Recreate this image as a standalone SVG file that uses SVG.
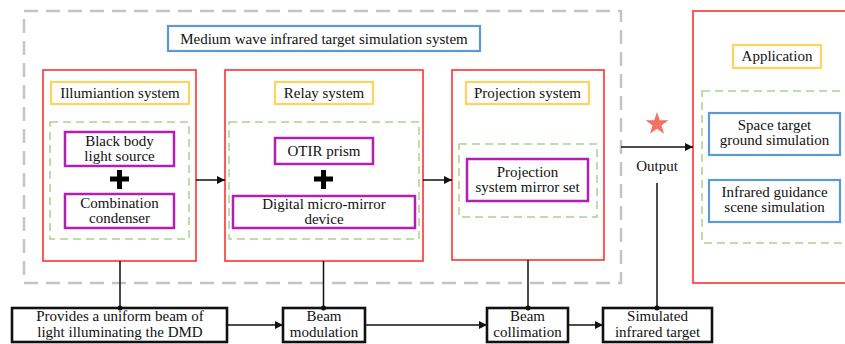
<svg xmlns="http://www.w3.org/2000/svg" width="845" height="344" viewBox="0 0 845 344" font-family="'Liberation Serif', 'Times New Roman', 'DejaVu Serif', serif">
<style>
text{font-family:'Liberation Serif','Times New Roman','DejaVu Serif',serif;font-size:15px;fill:#111;text-anchor:middle;dominant-baseline:central}
.gray{fill:none;stroke:#c4c4c4;stroke-width:2.5;stroke-dasharray:14 8}
.red{fill:#fff;stroke:#ff3030;stroke-width:1.6}
.yel{fill:#fff;stroke:#ffd45c;stroke-width:2.2}
.grn{fill:none;stroke:#a8d48a;stroke-width:1.5;stroke-dasharray:8 5}
.pur{fill:#fff;stroke:#b21fb2;stroke-width:2.5}
.blu{fill:#fff;stroke:#5b9bd5;stroke-width:2.2}
.blk{fill:#fff;stroke:#111;stroke-width:2.6}
.ln{fill:none;stroke:#111;stroke-width:1.5}
.plus{stroke:#000;stroke-width:5}
</style>
<defs>
<marker id="ah" viewBox="0 0 10 10" refX="10" refY="5" markerWidth="8" markerHeight="8" markerUnits="userSpaceOnUse" orient="auto">
<path d="M0,0 L10,5 L0,10 z" fill="#111"/>
</marker>
</defs>
<rect class="gray" x="24" y="11" width="597" height="272"/>
<g id="title"><rect class="blu" x="168" y="26" width="312" height="25"/><text x="324" y="38.5">Medium wave infrared target simulation system</text></g>
<g id="illumination">
<rect class="red" x="43" y="70" width="153" height="191"/>
<rect class="yel" x="51" y="82" width="138" height="22"/><text x="120" y="93">Illumiantion system</text>
<rect class="grn" x="50" y="122" width="139" height="117"/>
<rect class="pur" x="65" y="132" width="109" height="34"/><text x="119.5" y="141">Black body</text><text x="119.5" y="156">light source</text>
<path class="plus" d="M110,179h19M119.5,170v19"/>
<rect class="pur" x="65" y="194" width="109" height="34"/><text x="119.5" y="203">Combination</text><text x="119.5" y="218">condenser</text>
</g>
<g id="relay">
<rect class="red" x="225" y="70" width="198" height="191"/>
<rect class="yel" x="275" y="82" width="98" height="22"/><text x="324" y="93">Relay system</text>
<rect class="grn" x="229" y="122" width="190" height="117"/>
<rect class="pur" x="275" y="138" width="98" height="26"/><text x="324" y="151">OTIR prism</text>
<path class="plus" d="M314,179h19M323.5,170v19"/>
<rect class="pur" x="233" y="196" width="182" height="32"/><text x="324" y="204">Digital micro-mirror</text><text x="324" y="219">device</text>
</g>
<g id="projection">
<rect class="red" x="452" y="70" width="152" height="190"/>
<rect class="yel" x="466" y="82" width="123" height="22"/><text x="527.5" y="93">Projection system</text>
<rect class="grn" x="459" y="144" width="138" height="73"/>
<rect class="pur" x="467" y="159" width="121" height="42"/><text x="527.5" y="172">Projection</text><text x="527.5" y="187">system mirror set</text>
</g>
<g id="application">
<rect class="red" x="693" y="11" width="160" height="272"/>
<rect class="yel" x="733" y="45" width="88" height="23"/><text x="777" y="56">Application</text>
<rect class="grn" x="702" y="91" width="150" height="152"/>
<rect class="blu" x="709" y="113" width="131" height="42"/><text x="774.5" y="125">Space target</text><text x="774.5" y="140">ground simulation</text>
<rect class="blu" x="709" y="180" width="131" height="42"/><text x="774.5" y="192">Infrared guidance</text><text x="774.5" y="207">scene simulation</text>
</g>
<g id="output">
<polygon fill="#f47265" points="657,112 659.8,120.2 668.4,120.3 661.5,125.5 664.1,133.7 657,128.8 649.9,133.7 652.5,125.5 645.6,120.3 654.2,120.2"/>
<text x="657" y="166">Output</text>
</g>
<g id="provides"><rect class="blk" x="12" y="308" width="215" height="34"/><text x="120" y="316">Provides a uniform beam of</text><text x="120" y="332">light illuminating the DMD</text></g>
<g id="modulation"><rect class="blk" x="283" y="308" width="82" height="34"/><text x="324" y="316">Beam</text><text x="324" y="332">modulation</text></g>
<g id="collimation"><rect class="blk" x="487" y="308" width="81" height="34"/><text x="527.5" y="316">Beam</text><text x="527.5" y="332">collimation</text></g>
<g id="simulated"><rect class="blk" x="603" y="308" width="109" height="34"/><text x="657.5" y="316">Simulated</text><text x="657.5" y="332">infrared target</text></g>
<g id="connectors">
<path class="ln" d="M196,180H225" marker-end="url(#ah)"/>
<path class="ln" d="M423,180H452" marker-end="url(#ah)"/>
<path class="ln" d="M621,147H693" marker-end="url(#ah)"/>
<path class="ln" d="M120,261V308M323.5,261V308M528,260V308M657,183V308"/>
<g fill="#111"><circle cx="120" cy="308" r="2.5"/><circle cx="323.5" cy="308" r="2.5"/><circle cx="528" cy="308" r="2.5"/><circle cx="657" cy="308" r="2.5"/></g>
<path class="ln" d="M227,325H283" marker-end="url(#ah)"/>
<path class="ln" d="M365,325H487" marker-end="url(#ah)"/>
<path class="ln" d="M568,325H603" marker-end="url(#ah)"/>
</g>
</svg>
